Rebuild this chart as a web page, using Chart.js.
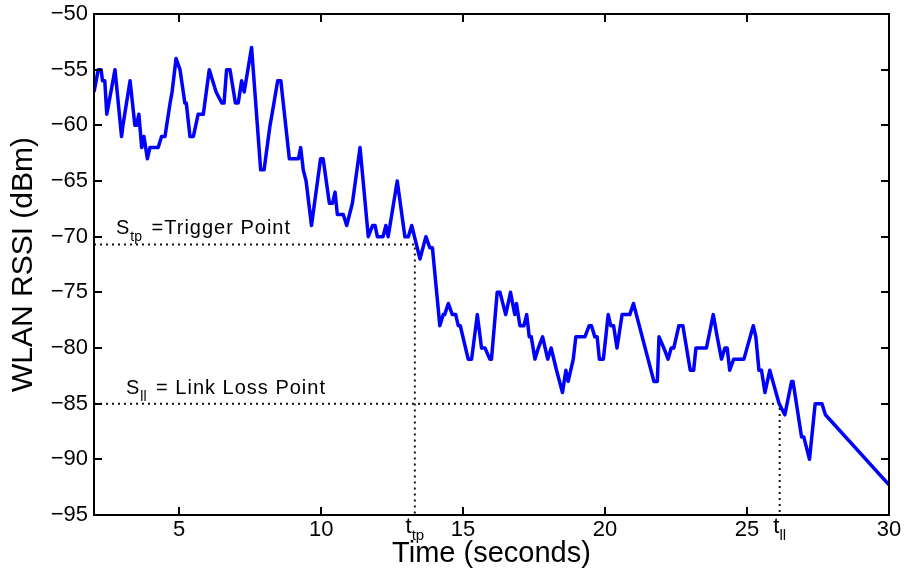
<!DOCTYPE html>
<html><head><meta charset="utf-8">
<script src="https://cdn.jsdelivr.net/npm/chart.js@4"></script>
<style>html,body{margin:0;padding:0;background:#fff}</style>
</head><body>
<canvas id="c" width="907" height="574"></canvas>
<script>
// ---- data ----
const TIME = [2.0,2.15,2.25,2.3,2.38,2.45,2.74,2.97,3.02,3.27,3.44,3.5,3.58,3.68,3.76,3.88,3.97,4.26,4.38,4.5,4.68,4.75,4.89,5.03,5.2,5.25,5.38,5.5,5.67,5.85,6.06,6.3,6.5,6.58,6.67,6.79,6.98,7.08,7.2,7.29,7.55,7.87,7.99,8.2,8.27,8.47,8.58,8.88,9.2,9.28,9.37,9.47,9.66,9.98,10.07,10.29,10.4,10.49,10.57,10.78,10.9,11.1,11.37,11.66,11.81,11.9,11.98,12.18,12.28,12.36,12.68,12.95,13.07,13.19,13.48,13.69,13.83,13.92,14.18,14.3,14.35,14.48,14.62,14.74,14.83,14.9,15.18,15.3,15.5,15.65,15.77,15.94,16.0,16.2,16.3,16.5,16.67,16.82,16.88,17.0,17.14,17.24,17.33,17.4,17.53,17.65,17.8,17.98,18.1,18.29,18.5,18.62,18.7,18.88,18.97,19.29,19.44,19.52,19.64,19.72,19.8,19.94,20.11,20.2,20.3,20.42,20.6,20.87,21.0,21.72,21.84,21.9,22.07,22.22,22.33,22.42,22.6,22.74,23.0,23.12,23.2,23.57,23.81,23.95,24.1,24.22,24.3,24.39,24.53,24.89,25.22,25.31,25.42,25.51,25.63,25.8,26.13,26.33,26.57,26.62,26.92,27.0,27.2,27.4,27.64,27.76,30.0];
const RSSI = [-57,-55,-55,-56,-56,-59,-55,-61,-60,-56,-60,-60,-59,-62,-61,-63,-62,-62,-61,-61,-58,-57,-54,-55,-58,-58,-61,-61,-59,-59,-55,-57,-58,-58,-55,-55,-58,-58,-56,-57,-53,-64,-64,-60,-59,-56,-56,-63,-63,-62,-64,-65,-69,-63,-63,-67,-67,-66,-68,-68,-69,-67,-62,-70,-69,-69,-70,-70,-69,-70,-65,-70,-70,-69,-72,-70,-71,-71,-78,-77,-77,-76,-77,-77,-78,-78,-81,-81,-77,-80,-80,-81,-81,-75,-75,-77,-75,-77,-76,-78,-78,-77,-79,-79,-81,-80,-79,-81,-80,-82,-84,-82,-83,-81,-79,-79,-78,-78,-79,-79,-81,-81,-77,-78,-78,-80,-77,-77,-76,-83,-83,-79,-80,-81,-80,-80,-78,-78,-82,-82,-80,-80,-77,-79,-81,-80,-80,-82,-81,-81,-78,-79,-82,-82,-84,-82,-85,-86,-83,-83,-88,-88,-90,-85,-85,-86,-92.3];
const X_TICKS = [5,10,15,20,25,30];
const Y_TICKS = [-95,-90,-85,-80,-75,-70,-65,-60,-55,-50];
const X_MIN = 2, X_MAX = 30, Y_MIN = -95, Y_MAX = -50;
const T_TP = 13.3, T_LL = 26.15;     // trigger time, link loss time
const S_TP = -70.7, S_LL = -85;      // trigger level, link loss level
const X_TITLE = 'Time (seconds)';
const Y_TITLE = 'WLAN RSSI (dBm)';

const FONT = '"Liberation Sans", Arial, Helvetica, sans-serif';
const TICK_SIZE = 22;

const framePlugin = {
  id: 'frame',
  afterDraw(chart) {
    const {ctx, chartArea: a, scales: {x, y}} = chart;
    ctx.save();
    ctx.strokeStyle = '#000';
    ctx.lineWidth = 2;
    ctx.strokeRect(a.left, a.top, a.right - a.left, a.bottom - a.top);
    const TL = 8;
    ctx.beginPath();
    X_TICKS.forEach(v => {
      const px = Math.round(x.getPixelForValue(v));
      ctx.moveTo(px, a.bottom); ctx.lineTo(px, a.bottom - TL);
      ctx.moveTo(px, a.top); ctx.lineTo(px, a.top + TL);
    });
    Y_TICKS.forEach(v => {
      const py = Math.round(y.getPixelForValue(v));
      ctx.moveTo(a.left, py); ctx.lineTo(a.left + TL, py);
      ctx.moveTo(a.right, py); ctx.lineTo(a.right - TL, py);
    });
    ctx.stroke();

    ctx.fillStyle = '#000';
    ctx.textBaseline = 'alphabetic';
    ctx.textAlign = 'left';
    // subscripted time labels on the x axis
    const main = TICK_SIZE + 'px ' + FONT, sub = '15px ' + FONT;
    [[T_TP, 'tp'], [T_LL, 'll']].forEach(([v, s]) => {
      ctx.font = main; const w1 = ctx.measureText('t').width;
      ctx.font = sub; const w2 = ctx.measureText(s).width;
      const px = x.getPixelForValue(v) - (w1 + w2) / 2;
      const base = a.bottom + 18;
      ctx.font = main; ctx.fillText('t', px, base);
      ctx.font = sub; ctx.fillText(s, px + w1, base + 7);
    });
    // annotations
    const aMain = '20px ' + FONT, aSub = '14px ' + FONT;
    function annot(xp, base, s, rest) {
      ctx.letterSpacing = '0px';
      ctx.font = aMain; ctx.fillText('S', xp, base);
      const w1 = ctx.measureText('S').width;
      ctx.font = aSub; ctx.fillText(s, xp + w1 + 1, base + 7);
      const w2 = ctx.measureText(s).width;
      ctx.font = aMain; ctx.letterSpacing = '1px';
      ctx.fillText(rest, xp + w1 + w2 + 4, base);
      ctx.letterSpacing = '0px';
    }
    annot(a.left + 22, y.getPixelForValue(S_TP) - 10, 'tp', ' =Trigger Point');
    annot(a.left + 32, y.getPixelForValue(S_LL) - 10, 'll', ' = Link Loss Point');
    ctx.restore();
  }
};

const dotted = {borderColor: '#111', borderWidth: 2, borderDash: [2, 4], pointRadius: 0, fill: false};

new Chart(document.getElementById('c'), {
  type: 'line',
  data: {
    datasets: [
      {data: TIME.map((t, i) => ({x: t, y: RSSI[i]})), borderColor: '#0000ff', borderWidth: 3.5,
       pointRadius: 0, tension: 0, fill: false, borderJoinStyle: 'round'},
      Object.assign({data: [{x: X_MIN, y: S_TP}, {x: T_TP, y: S_TP}, {x: T_TP, y: Y_MIN}]}, dotted),
      Object.assign({data: [{x: X_MIN, y: S_LL}, {x: T_LL, y: S_LL}, {x: T_LL, y: Y_MIN}]}, dotted)
    ]
  },
  options: {
    responsive: false, animation: false, devicePixelRatio: 1,
    layout: {padding: {top: 14, right: 18, left: 0, bottom: 0}},
    plugins: {legend: {display: false}, tooltip: {enabled: false}},
    scales: {
      x: {
        type: 'linear', min: X_MIN, max: X_MAX,
        afterBuildTicks: s => { s.ticks = X_TICKS.concat([T_TP, T_LL]).sort((a, b) => a - b).map(v => ({value: v})); },
        afterFit: s => { s.height = 59; s.paddingLeft = 0; s.paddingRight = 0; },
        ticks: {autoSkip: false, maxRotation: 0, padding: 2, color: '#000', font: {family: FONT, size: TICK_SIZE},
                callback: v => (v === T_TP || v === T_LL) ? '' : String(v)},
        grid: {display: false, drawTicks: false, tickLength: 0}, border: {display: false},
        title: {display: true, text: X_TITLE, color: '#000', font: {family: FONT, size: 29}, padding: {top: 0, bottom: 3}}
      },
      y: {
        min: Y_MIN, max: Y_MAX,
        afterBuildTicks: s => { s.ticks = Y_TICKS.map(v => ({value: v})); },
        afterFit: s => { s.width = 94; s.paddingTop = 0; s.paddingBottom = 0; },
        ticks: {autoSkip: false, padding: 6, color: '#000', font: {family: FONT, size: TICK_SIZE},
                callback: v => v < 0 ? '\u2212' + Math.abs(v) : String(v)},
        grid: {display: false, drawTicks: false, tickLength: 0}, border: {display: false},
        title: {display: true, text: Y_TITLE, color: '#000', font: {family: FONT, size: 30}, padding: {top: 6, bottom: 0}}
      }
    }
  },
  plugins: [framePlugin]
});
</script>
</body></html>
